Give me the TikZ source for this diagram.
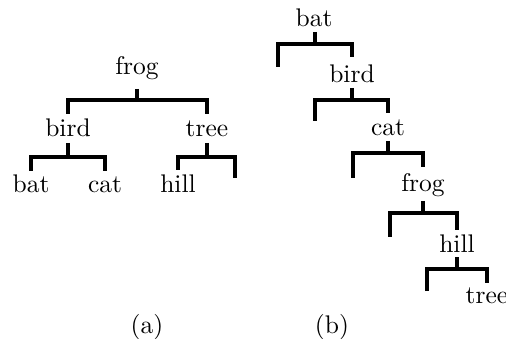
\documentclass[tikz,border=0pt]{standalone}
\usepackage{fontspec}
\setmainfont{lmroman10-regular}[Extension=.otf]
\begin{document}
\begin{tikzpicture}[x=1pt,y=-1pt,
  lbl/.style={anchor=base,inner sep=0pt,font=\fontsize{25.5}{30}\selectfont},
  br/.style={line width=3.1pt,line join=miter}]
\useasboundingbox (0,0) rectangle (506,339);
% ---------- tree (a)
\node[lbl] (afrog) at (137,75) {frog};
\node[lbl] (abird) at (68,137) {bird};
\node[lbl] (atree) at (207,137) {tree};
\node[lbl] (abat) at (31,193) {bat};
\node[lbl] (acat) at (105,193) {cat};
\node[lbl] (ahill) at (178,193) {hill};
\coordinate (ae) at (235,178);
\draw[br] (afrog.base) ++(0,14) -- ++(0,11) coordinate (a1);
\draw[br] (abird.base) ++(0,-23) |- (a1) -| ([yshift=23pt]atree.base);
\draw[br] (abird.base) ++(0,6) -- ++(0,14) coordinate (a2);
\draw[br] (abat.base) ++(0,-22) |- (a2) -| ([yshift=22pt]acat.base);
\draw[br] (atree.base) ++(0,6) -- ++(0,14) coordinate (a3);
\draw[br] (ahill.base) ++(0,-23) |- (a3) -| (ae);
\node[lbl] (la) at (147,333) {(a)};
% ---------- tree (b)
\node[lbl] (bbat) at (314,27) {bat};
\node[lbl] (bbird) at (352,83) {bird};
\node[lbl] (bcat) at (388,136) {cat};
\node[lbl] (bfrog) at (423,192) {frog};
\node[lbl] (bhill) at (457,252) {hill};
\node[lbl] (btree) at (487,303) {tree};
\coordinate (be1) at (278,67);
\coordinate (be2) at (315,121);
\coordinate (be3) at (353,178);
\coordinate (be4) at (390,237);
\coordinate (be5) at (427,291);
\draw[br] (bbat.base) ++(1,5) -- ++(0,12) coordinate (b1);
\draw[br] (be1) |- (b1) -| ([yshift=26pt]bbird.base);
\draw[br] (bbird.base) ++(0,5) -- ++(0,12) coordinate (b2);
\draw[br] (be2) |- (b2) -| ([yshift=23pt]bcat.base);
\draw[br] (bcat.base) ++(0,5) -- ++(0,12) coordinate (b3);
\draw[br] (be3) |- (b3) -| ([yshift=25pt]bfrog.base);
\draw[br] (bfrog.base) ++(0,9) -- ++(0,12) coordinate (b4);
\draw[br] (be4) |- (b4) -| ([yshift=22pt]bhill.base);
\draw[br] (bhill.base) ++(0,5) -- ++(0,12) coordinate (b5);
\draw[br] (be5) |- (b5) -| ([yshift=20pt]btree.base);
\node[lbl] (lb) at (332,333) {(b)};
\end{tikzpicture}
\end{document}
